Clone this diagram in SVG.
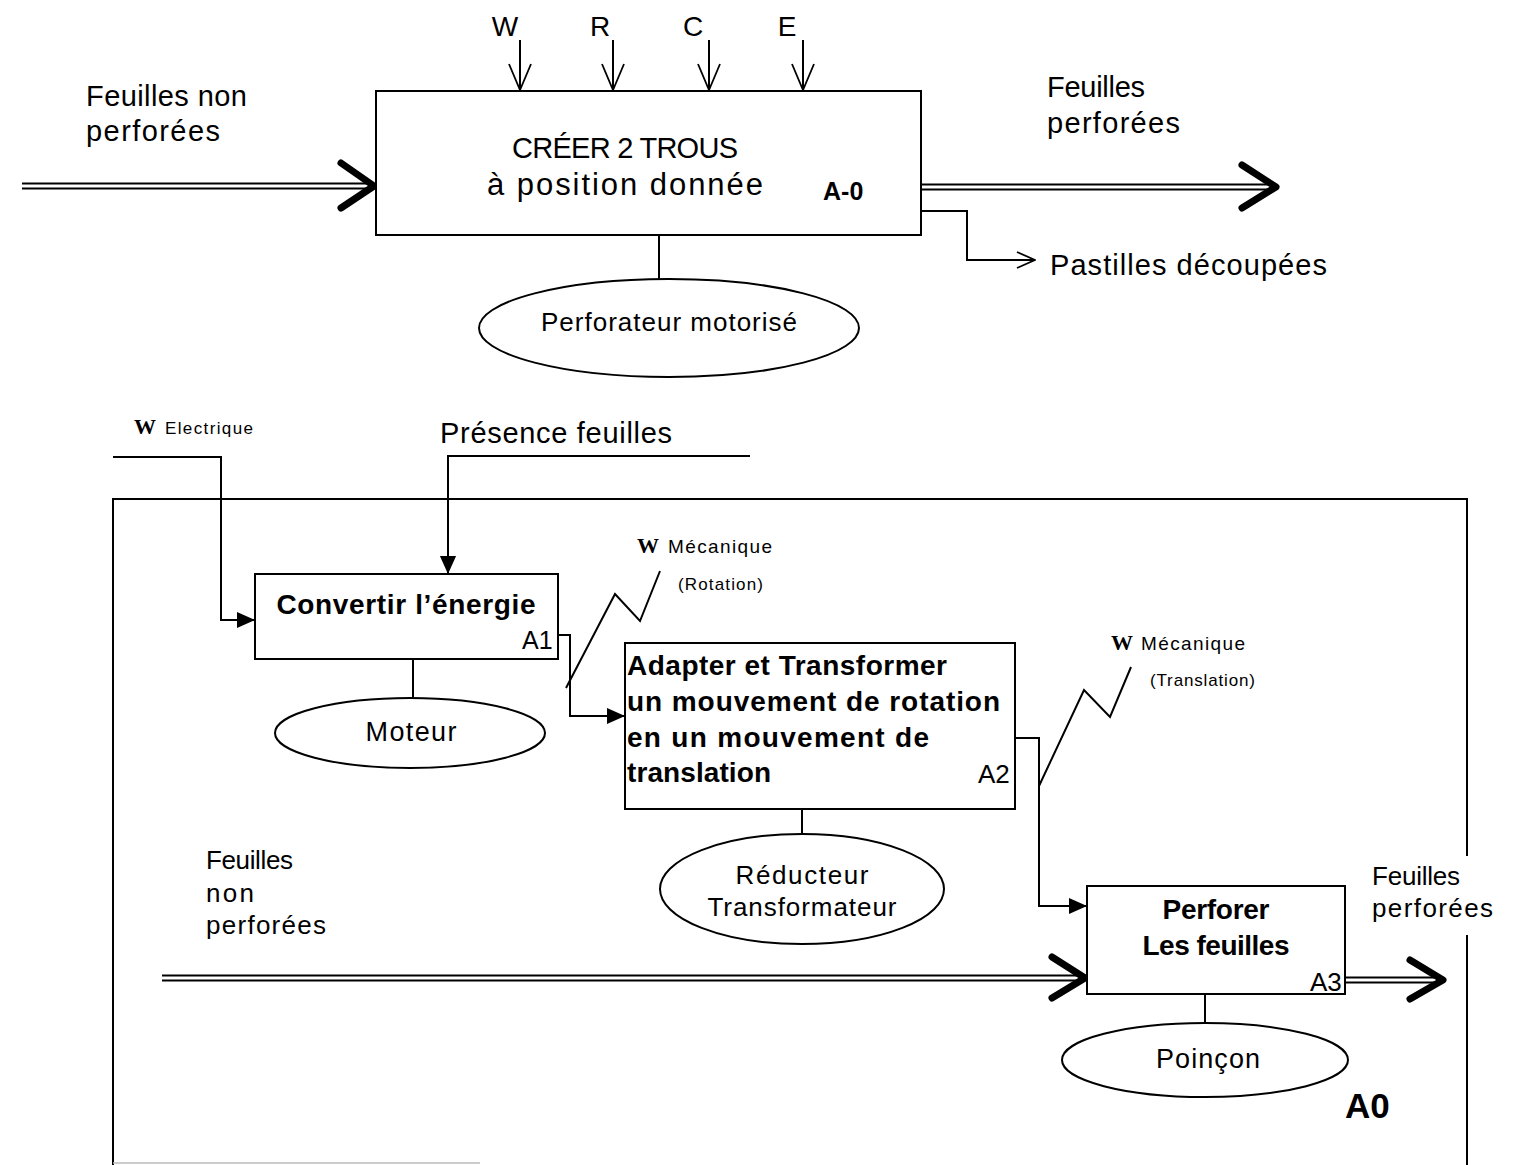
<svg xmlns="http://www.w3.org/2000/svg" width="1535" height="1165" viewBox="0 0 1535 1165">
<defs>
<marker id="openv" viewBox="0 0 20 20" refX="19" refY="10" markerWidth="20" markerHeight="20" markerUnits="userSpaceOnUse" orient="auto">
<path d="M1,2 L19,10 L1,18" fill="none" stroke="#000" stroke-width="1.8"/>
</marker>
<marker id="ctrl" viewBox="0 0 28 26" refX="27" refY="13" markerWidth="28" markerHeight="26" markerUnits="userSpaceOnUse" orient="auto">
<path d="M1,2 L27,13 L1,24" fill="none" stroke="#000" stroke-width="1.8"/>
</marker>
<marker id="filled" viewBox="0 0 20 20" refX="20" refY="10" markerWidth="20" markerHeight="18" markerUnits="userSpaceOnUse" orient="auto">
<path d="M0,1 L20,10 L0,19 Z" fill="#000"/>
</marker>
</defs>
<style>
.t{font-family:"Liberation Sans",Arial,sans-serif;fill:#000}
.b{font-family:"Liberation Sans",Arial,sans-serif;font-weight:bold;fill:#000}
.s{font-family:"Liberation Serif","Times New Roman",serif;font-weight:bold;fill:#000}
.box{fill:#fff;stroke:#000;stroke-width:2}
.ln{fill:none;stroke:#000;stroke-width:2}
.dbl{fill:none;stroke:#000;stroke-width:2}
.head{fill:none;stroke:#000;stroke-width:7;stroke-linecap:round;stroke-linejoin:round}
</style>
<rect width="1535" height="1165" fill="#fff"/>

<g id="connectors">
<line class="ln" x1="520" y1="40" x2="520" y2="90" marker-end="url(#ctrl)"/>
<line class="ln" x1="613" y1="40" x2="613" y2="90" marker-end="url(#ctrl)"/>
<line class="ln" x1="709" y1="40" x2="709" y2="90" marker-end="url(#ctrl)"/>
<line class="ln" x1="803" y1="40" x2="803" y2="90" marker-end="url(#ctrl)"/>
<path class="dbl" d="M22,183.5 H372 M22,188.5 H372"/>
<path class="head" d="M341,163 L374,186 L341,208"/>
<path class="dbl" d="M921,184.5 H1272 M921,189.5 H1272"/>
<path class="head" d="M1242,165 L1276,187 L1242,208"/>
<path class="ln" d="M921,211 H967 V260 H1035" marker-end="url(#openv)"/>
<line class="ln" x1="659" y1="235" x2="659" y2="281"/>

<path class="ln" d="M113,1165 V499 H1467 V856"/>
<line class="ln" x1="1467" y1="935" x2="1467" y2="1165"/>
<line x1="113" y1="1163" x2="480" y2="1163" stroke="#bbb" stroke-width="1.5"/>

<path class="ln" d="M113,457 H221 V620 H255" marker-end="url(#filled)"/>
<path class="ln" d="M750,456 H448 V574" marker-end="url(#filled)"/>
<path class="ln" d="M558,635 H570 V716 H625" marker-end="url(#filled)"/>
<polyline class="ln" points="566,688 615,594 640,621 660,571"/>
<line class="ln" x1="413" y1="659" x2="413" y2="697"/>
<path class="ln" d="M1015,738 H1039 V906 H1087" marker-end="url(#filled)"/>
<polyline class="ln" points="1039,786 1084,690 1110,717 1131,667"/>
<line class="ln" x1="802" y1="809" x2="802" y2="834"/>
<line class="ln" x1="1205" y1="994" x2="1205" y2="1023"/>
<path class="dbl" d="M162,975.5 H1083 M162,980.5 H1083"/>
<path class="head" d="M1052,957 L1085,978 L1052,998"/>
<path class="dbl" d="M1345,977.5 H1440 M1345,982.5 H1440"/>
<path class="head" d="M1410,960 L1443,980 L1410,999"/>
</g>

<g id="labels">
<text class="t" x="505" y="36" font-size="28" text-anchor="middle">W</text>
<text class="t" x="600" y="36" font-size="28" text-anchor="middle">R</text>
<text class="t" x="693" y="36" font-size="28" text-anchor="middle">C</text>
<text class="t" x="787" y="36" font-size="28" text-anchor="middle">E</text>
<text class="t" x="86" y="106" font-size="29" textLength="161">Feuilles non</text>
<text class="t" x="86" y="141" font-size="29" textLength="134">perforées</text>
<text class="t" x="1047" y="97" font-size="29" textLength="98">Feuilles</text>
<text class="t" x="1047" y="133" font-size="29" textLength="133">perforées</text>
<text class="t" x="1050" y="275" font-size="29" textLength="277">Pastilles découpées</text>

<text class="s" x="134" y="434" font-size="22">W</text>
<text class="t" x="165" y="434" font-size="17" textLength="88">Electrique</text>
<text class="t" x="440" y="443" font-size="29" textLength="232">Présence feuilles</text>
<text class="s" x="637" y="553" font-size="22">W</text>
<text class="t" x="668" y="553" font-size="19" textLength="104">Mécanique</text>
<text class="t" x="678" y="590" font-size="17" textLength="85">(Rotation)</text>
<text class="s" x="1111" y="650" font-size="22">W</text>
<text class="t" x="1141" y="650" font-size="19" textLength="104">Mécanique</text>
<text class="t" x="1150" y="686" font-size="17" textLength="105">(Translation)</text>
<text class="t" x="206" y="869" font-size="26" textLength="87">Feuilles</text>
<text class="t" x="206" y="902" font-size="26" textLength="48">non</text>
<text class="t" x="206" y="934" font-size="26" textLength="120">perforées</text>
<text class="t" x="1372" y="885" font-size="26" textLength="88">Feuilles</text>
<text class="t" x="1372" y="917" font-size="26" textLength="121">perforées</text>
<text class="b" x="1345" y="1118" font-size="35">A0</text>
</g>

<g id="nodeA-0">
<rect class="box" x="376" y="91" width="545" height="144"/>
<text class="t" x="625" y="158" font-size="29" text-anchor="middle" textLength="226">CRÉER 2 TROUS</text>
<text class="t" x="625" y="195" font-size="31" text-anchor="middle" textLength="276">à position donnée</text>
<text class="b" x="823" y="200" font-size="25">A-0</text>
</g>
<g id="mechA-0">
<ellipse class="box" cx="669" cy="328" rx="190" ry="49"/>
<text class="t" x="669" y="331" font-size="26" text-anchor="middle" textLength="256">Perforateur motorisé</text>
</g>

<g id="nodeA1">
<rect class="box" x="255" y="574" width="303" height="85"/>
<text class="b" x="406" y="614" font-size="28" text-anchor="middle" textLength="259">Convertir l’énergie</text>
<text class="t" x="522" y="649" font-size="25">A1</text>
</g>
<g id="mechA1">
<ellipse class="box" cx="410" cy="733" rx="135" ry="35"/>
<text class="t" x="411" y="741" font-size="27" text-anchor="middle" textLength="91">Moteur</text>
</g>

<g id="nodeA2">
<rect class="box" x="625" y="643" width="390" height="166"/>
<text class="b" x="627" y="675" font-size="28" textLength="320">Adapter et Transformer</text>
<text class="b" x="627" y="711" font-size="28" textLength="373">un mouvement de rotation</text>
<text class="b" x="627" y="747" font-size="28" textLength="302">en un mouvement de</text>
<text class="b" x="627" y="782" font-size="28" textLength="144">translation</text>
<text class="t" x="978" y="783" font-size="26">A2</text>
</g>
<g id="mechA2">
<ellipse class="box" cx="802" cy="889" rx="142" ry="55"/>
<text class="t" x="802" y="884" font-size="26" text-anchor="middle" textLength="133">Réducteur</text>
<text class="t" x="802" y="916" font-size="26" text-anchor="middle" textLength="189">Transformateur</text>
</g>

<g id="nodeA3">
<rect class="box" x="1087" y="886" width="258" height="108"/>
<text class="b" x="1216" y="919" font-size="28" text-anchor="middle" textLength="107">Perforer</text>
<text class="b" x="1216" y="955" font-size="28" text-anchor="middle" textLength="147">Les feuilles</text>
<text class="t" x="1310" y="991" font-size="26">A3</text>
</g>
<g id="mechA3">
<ellipse class="box" cx="1205" cy="1060" rx="143" ry="37"/>
<text class="t" x="1208" y="1068" font-size="27" text-anchor="middle" textLength="104">Poinçon</text>
</g>
</svg>
